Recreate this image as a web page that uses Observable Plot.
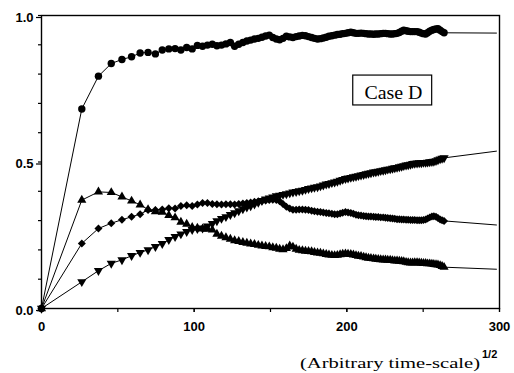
<!DOCTYPE html>
<html>
<head>
<meta charset="utf-8">
<script src="https://cdn.jsdelivr.net/npm/d3@7"></script>
<script src="https://cdn.jsdelivr.net/npm/@observablehq/plot@0.6"></script>
<style>
  html, body { margin: 0; padding: 0; background: #fff; }
  #chart { width: 514px; height: 373px; }
  svg { display: block; }
</style>
</head>
<body>
<div id="chart"></div>
<script>
// x positions: square root of an arbitrary, equally stepped time scale
const xs = [0,
  26.4, 37.3, 45.7, 52.7, 59.0, 64.6, 69.8, 74.6, 79.1, 83.4,
  87.5, 91.3, 95.1, 98.7, 102.1, 105.5, 108.7, 111.9, 114.9, 117.9,
  120.8, 123.7, 126.5, 129.2, 131.9, 134.5, 137.0, 139.5, 142.0, 144.4,
  146.8, 149.2, 151.5, 153.8, 156.0, 158.2, 160.4, 162.6, 164.7, 166.8,
  168.8, 170.9, 172.9, 174.9, 176.9, 178.8, 180.8, 182.7, 184.6, 186.5,
  188.3, 190.2, 192.0, 193.8, 195.6, 197.3, 199.1, 200.8, 202.6, 204.3,
  206.0, 207.6, 209.3, 211.0, 212.6, 214.2, 215.8, 217.5, 219.0, 220.6,
  222.2, 223.8, 225.3, 226.8, 228.4, 229.9, 231.4, 232.9, 234.4, 235.9,
  237.3, 238.8, 240.2, 241.7, 243.1, 244.5, 246.0, 247.4, 248.8, 250.2,
  251.6, 252.9, 254.3, 255.7, 257.0, 258.4, 259.7, 261.1, 262.4, 263.7];

// circles (top curve)
const circleY = [0,
  0.681, 0.793, 0.836, 0.850, 0.859, 0.872, 0.874, 0.869, 0.882, 0.886,
  0.887, 0.882, 0.891, 0.886, 0.898, 0.895, 0.899, 0.902, 0.897, 0.899,
  0.903, 0.908, 0.895, 0.902, 0.908, 0.913, 0.916, 0.920, 0.922, 0.926,
  0.930, 0.933, 0.925, 0.920, 0.917, 0.922, 0.929, 0.927, 0.925, 0.928,
  0.930, 0.932, 0.931, 0.928, 0.925, 0.922, 0.920, 0.921, 0.923, 0.926,
  0.929, 0.931, 0.933, 0.935, 0.936, 0.938, 0.939, 0.941, 0.943, 0.941,
  0.939, 0.939, 0.940, 0.939, 0.938, 0.937, 0.937, 0.936, 0.937, 0.937,
  0.938, 0.939, 0.939, 0.938, 0.937, 0.937, 0.938, 0.939, 0.942, 0.946,
  0.950, 0.948, 0.946, 0.945, 0.945, 0.945, 0.945, 0.943, 0.940, 0.938,
  0.937, 0.941, 0.946, 0.950, 0.952, 0.954, 0.955, 0.950, 0.945, 0.941];

// upward triangles (rise, peak, then decline)
const triUpY = [0,
  0.370, 0.398, 0.396, 0.381, 0.367, 0.354, 0.338, 0.331, 0.329, 0.318,
  0.310, 0.295, 0.288, 0.277, 0.275, 0.272, 0.271, 0.268, 0.254, 0.247,
  0.242, 0.237, 0.232, 0.229, 0.226, 0.223, 0.221, 0.219, 0.216, 0.214,
  0.212, 0.211, 0.208, 0.206, 0.203, 0.201, 0.205, 0.214, 0.210, 0.203,
  0.199, 0.198, 0.196, 0.195, 0.194, 0.192, 0.190, 0.189, 0.187, 0.185,
  0.183, 0.182, 0.181, 0.182, 0.184, 0.186, 0.187, 0.186, 0.185, 0.183,
  0.181, 0.179, 0.178, 0.176, 0.174, 0.172, 0.171, 0.170, 0.169, 0.168,
  0.167, 0.166, 0.166, 0.165, 0.165, 0.164, 0.163, 0.163, 0.162, 0.161,
  0.160, 0.158, 0.157, 0.156, 0.156, 0.157, 0.157, 0.156, 0.155, 0.154,
  0.154, 0.153, 0.153, 0.152, 0.151, 0.150, 0.149, 0.147, 0.144, 0.141];

// diamonds
const diamondY = [0,
  0.222, 0.273, 0.291, 0.303, 0.313, 0.322, 0.336, 0.336, 0.338, 0.342,
  0.341, 0.350, 0.352, 0.350, 0.355, 0.360, 0.360, 0.357, 0.356, 0.355,
  0.356, 0.356, 0.355, 0.357, 0.358, 0.360, 0.362, 0.364, 0.366, 0.367,
  0.369, 0.370, 0.371, 0.370, 0.366, 0.357, 0.347, 0.341, 0.337, 0.337,
  0.338, 0.338, 0.337, 0.336, 0.334, 0.332, 0.330, 0.329, 0.328, 0.326,
  0.325, 0.323, 0.322, 0.322, 0.324, 0.327, 0.329, 0.328, 0.326, 0.323,
  0.320, 0.318, 0.317, 0.316, 0.315, 0.314, 0.314, 0.313, 0.312, 0.312,
  0.311, 0.311, 0.310, 0.309, 0.308, 0.307, 0.306, 0.305, 0.305, 0.304,
  0.304, 0.303, 0.303, 0.302, 0.302, 0.302, 0.301, 0.301, 0.301, 0.302,
  0.304, 0.307, 0.311, 0.314, 0.315, 0.313, 0.309, 0.304, 0.301, 0.299];

// downward triangles (steady rise)
const triDownY = [0,
  0.091, 0.129, 0.154, 0.166, 0.180, 0.191, 0.200, 0.211, 0.221, 0.235,
  0.245, 0.254, 0.262, 0.269, 0.272, 0.274, 0.281, 0.290, 0.299, 0.307,
  0.313, 0.320, 0.326, 0.333, 0.340, 0.346, 0.350, 0.356, 0.362, 0.368,
  0.373, 0.377, 0.380, 0.384, 0.386, 0.389, 0.391, 0.394, 0.397, 0.399,
  0.401, 0.403, 0.406, 0.409, 0.411, 0.413, 0.415, 0.418, 0.421, 0.424,
  0.426, 0.429, 0.431, 0.434, 0.437, 0.440, 0.443, 0.445, 0.447, 0.449,
  0.451, 0.453, 0.455, 0.457, 0.459, 0.461, 0.463, 0.465, 0.466, 0.468,
  0.470, 0.471, 0.473, 0.475, 0.476, 0.478, 0.480, 0.481, 0.483, 0.485,
  0.487, 0.489, 0.490, 0.492, 0.494, 0.495, 0.496, 0.497, 0.497, 0.498,
  0.498, 0.499, 0.500, 0.501, 0.502, 0.504, 0.507, 0.510, 0.512, 0.514];

// thin extrapolated tails beyond the last measured point
const tailX = [263.7, 298];
const tailCircle = [0.941, 0.940];
const tailTriUp = [0.141, 0.134];
const tailDiamond = [0.299, 0.285];
const tailTriDown = [0.514, 0.537];

// axis ticks
const xTicksAll = [0, 50, 100, 150, 200, 250, 300];
const xTickLabels = [0, 100, 200, 300];
const yTicksAll = [0, 0.1, 0.2, 0.3, 0.4, 0.5, 0.6, 0.7, 0.8, 0.9, 1.0];
const yTickLabels = [0, 0.5, 1.0];

// texts
const caseLabel = "Case D";
const xTitle = "(Arbitrary time-scale)";
const xTitleSup = "1/2";
const caseBox = {x1: 204.2, x2: 255.9, y1: 0.693, y2: 0.795, tx: 230.5, ty: 0.733};

// custom downward triangle (same geometry as d3.symbolTriangle, flipped)
const sqrt3 = Math.sqrt(3);
const triangleDown = {
  draw(context, size) {
    const y = -Math.sqrt(size / (sqrt3 * 3));
    context.moveTo(0, -y * 2);
    context.lineTo(-sqrt3 * y, y);
    context.lineTo(sqrt3 * y, y);
    context.closePath();
  }
};

const series = [
  {key: "circle", ys: circleY, tail: tailCircle, symbol: "circle", r: 3.7},
  {key: "triUp", ys: triUpY, tail: tailTriUp, symbol: "triangle", r: 3.4},
  {key: "diamond", ys: diamondY, tail: tailDiamond, symbol: "diamond2", r: 3.6},
  {key: "triDown", ys: triDownY, tail: tailTriDown, symbol: triangleDown, r: 3.4}
];

const rows = series.flatMap(s => xs.map((x, i) => ({s: s.key, x, y: s.ys[i]})));
const tails = series.flatMap(s => tailX.map((x, i) => ({s: s.key, x, y: s.tail[i]})));

const fmt = d3.format(".1f");
const font = "'Liberation Sans', Arial, sans-serif";

const plot = Plot.plot({
  width: 514,
  height: 373,
  marginLeft: 41,
  marginRight: 15,
  marginTop: 15,
  marginBottom: 65,
  style: {fontFamily: font, background: "#fff", color: "#000"},
  x: {domain: [0, 300]},
  y: {domain: [0, 1]},
  marks: [
    Plot.line(rows, {x: "x", y: "y", z: "s", stroke: "#000", strokeWidth: 1}),
    Plot.line(tails, {x: "x", y: "y", z: "s", stroke: "#000", strokeWidth: 1}),
    ...series.map(s => Plot.dot(rows.filter(d => d.s === s.key), {
      x: "x", y: "y", r: s.r, symbol: s.symbol, fill: "#000", stroke: "none"
    })),
    Plot.rect([caseBox], {x1: "x1", x2: "x2", y1: "y1", y2: "y2", fill: "#fff", stroke: "#000", strokeWidth: 1.2}),
    Plot.text([caseBox], {x: "tx", y: "ty", text: () => caseLabel, fontSize: 18,
      fontFamily: "'Liberation Serif', 'Times New Roman', serif", fill: "#000", className: "caselabel"}),
    Plot.axisX({ticks: xTicksAll, tickSize: 4, tickFormat: () => "", strokeWidth: 1.2}),
    Plot.axisX({ticks: xTickLabels, tickSize: 4, tickPadding: 9, tickFormat: d => String(d),
      fontSize: 13, fontWeight: "bold", label: null, strokeWidth: 1.2}),
    Plot.axisY({ticks: yTicksAll, tickSize: 3, tickFormat: () => "", strokeWidth: 1.2}),
    Plot.axisY({ticks: yTickLabels, tickSize: 5, tickPadding: 3, tickFormat: fmt,
      fontSize: 13, fontWeight: "bold", label: null, dy: 2, strokeWidth: 1.2}),
    Plot.frame({stroke: "#000", strokeWidth: 1.4})
  ]
});

document.getElementById("chart").appendChild(plot);

// stretch the Case D label to the width seen in the reference
d3.select(plot).selectAll(".caselabel text")
  .attr("textLength", 58).attr("lengthAdjust", "spacingAndGlyphs");

// x-axis title with superscript exponent
const svg = d3.select(plot);
svg.append("text")
  .attr("x", 300).attr("y", 367.5)
  .attr("text-anchor", "start")
  .attr("font-family", "'Liberation Serif', 'Times New Roman', serif")
  .attr("font-size", 15)
  .attr("fill", "#000")
  .attr("textLength", 180).attr("lengthAdjust", "spacingAndGlyphs")
  .text(xTitle);
svg.append("text")
  .attr("x", 482).attr("y", 357.5)
  .attr("text-anchor", "start")
  .attr("font-family", font)
  .attr("font-size", 11)
  .attr("font-weight", "bold")
  .attr("fill", "#000")
  .text(xTitleSup);
</script>
</body>
</html>
